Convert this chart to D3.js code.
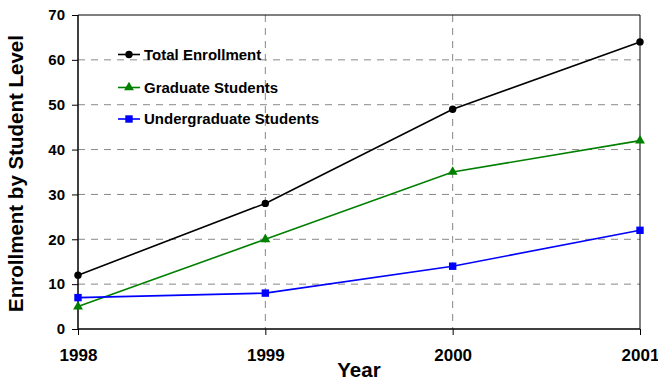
<!DOCTYPE html>
<html><head><meta charset="utf-8">
<script src="https://cdn.jsdelivr.net/npm/d3@7"></script>
<style>body{margin:0;background:#fff}svg{display:block;font-family:"Liberation Sans",Arial,sans-serif;font-weight:bold}</style>
</head><body><svg id="c" width="658" height="383"></svg>
<script>
const years = [1998, 1999, 2000, 2001];
const totalEnrollment = [12, 28, 49, 64];
const graduateStudents = [5, 20, 35, 42];
const undergraduateStudents = [7, 8, 14, 22];
const yTicks = [0, 10, 20, 30, 40, 50, 60, 70];
const seriesNames = ["Total Enrollment", "Graduate Students", "Undergraduate Students"];

const series = [
  {name: seriesNames[0], values: totalEnrollment, color: "#000000", marker: "circle"},
  {name: seriesNames[1], values: graduateStudents, color: "#008000", marker: "triangle"},
  {name: seriesNames[2], values: undergraduateStudents, color: "#0000ff", marker: "square"}
];

const svg = d3.select("#c");
const L = 78, R = 640, T = 15, B = 329;
const x = d3.scaleLinear().domain([1998, 2001]).range([L, R]);
const y = d3.scaleLinear().domain([0, 70]).range([B, T]);

// gridlines
svg.append("g").selectAll("line").data(yTicks.filter(d => d > 0 && d < 70)).join("line")
  .attr("x1", L).attr("x2", R).attr("y1", d => y(d)).attr("y2", d => y(d))
  .attr("stroke", "#888").attr("stroke-width", 1).attr("stroke-dasharray", "7,6");
svg.append("g").selectAll("line").data(years.slice(1, 3)).join("line")
  .attr("x1", d => x(d)).attr("x2", d => x(d)).attr("y1", T).attr("y2", B)
  .attr("stroke", "#888").attr("stroke-width", 1).attr("stroke-dasharray", "7,6");

// frame top and right
svg.append("line").attr("x1", L).attr("x2", R).attr("y1", T).attr("y2", T).attr("stroke", "#000");
svg.append("line").attr("x1", R).attr("x2", R).attr("y1", T).attr("y2", B).attr("stroke", "#000");

// axes
const yAxis = d3.axisLeft(y).tickValues(yTicks).tickSize(6).tickPadding(7).tickFormat(d3.format("d"));
const gy = svg.append("g").attr("transform", `translate(${L},0)`).call(yAxis);
const xAxis = d3.axisBottom(x).tickValues(years).tickSize(6).tickPadding(14).tickFormat(d3.format("d"));
const gx = svg.append("g").attr("transform", `translate(0,${B})`).call(xAxis);
[gy, gx].forEach(g => {
  g.attr("font-family", null).attr("font-size", null);
  g.select(".domain").attr("stroke", "#000").attr("stroke-width", 1.5);
  g.selectAll(".tick line").attr("stroke", "#000");
  g.selectAll("text").attr("fill", "#000").style("font-weight", "bold")
    .style("font-family", "'Liberation Sans', Arial, sans-serif");
});
gy.selectAll("text").style("font-size", "15px");
gx.selectAll("text").style("font-size", "17px");
gy.select(".domain").attr("d", `M0,${B}V${T}`);
gx.select(".domain").attr("d", `M${L},0H${R}`);

// axis titles
svg.append("text").attr("x", 359).attr("y", 377).attr("text-anchor", "middle")
  .style("font-size", "20.5px").text("Year");
svg.append("text").attr("transform", `translate(23,173.5) rotate(-90)`).attr("text-anchor", "middle")
  .style("font-size", "20.5px").text("Enrollment by Student Level");

function marker(g, type, cx, cy, color) {
  if (type === "circle") g.append("circle").attr("cx", cx).attr("cy", cy).attr("r", 3.7).attr("fill", color);
  else if (type === "square") g.append("rect").attr("x", cx - 3.7).attr("y", cy - 3.7).attr("width", 7.4).attr("height", 7.4).attr("fill", color);
  else g.append("path").attr("d", d3.symbol(d3.symbolTriangle, 42)()).attr("transform", `translate(${cx},${cy})`).attr("fill", color);
}

const line = d3.line().x((d, i) => x(years[i])).y(d => y(d));
series.forEach(s => {
  const g = svg.append("g");
  g.append("path").attr("d", line(s.values)).attr("fill", "none").attr("stroke", s.color).attr("stroke-width", 1.6);
  s.values.forEach((v, i) => marker(g, s.marker, x(years[i]), y(v), s.color));
});

// legend
const lg = svg.append("g");
series.forEach((s, i) => {
  const ly = [54.5, 87.5, 119][i];
  lg.append("line").attr("x1", 118).attr("x2", 140).attr("y1", ly).attr("y2", ly).attr("stroke", s.color).attr("stroke-width", 1.6);
  marker(lg, s.marker, 129, ly, s.color);
  lg.append("text").attr("x", 144).attr("y", ly + 5.3).style("font-size", "15px").attr("fill", "#000").text(s.name);
});
</script></body></html>
